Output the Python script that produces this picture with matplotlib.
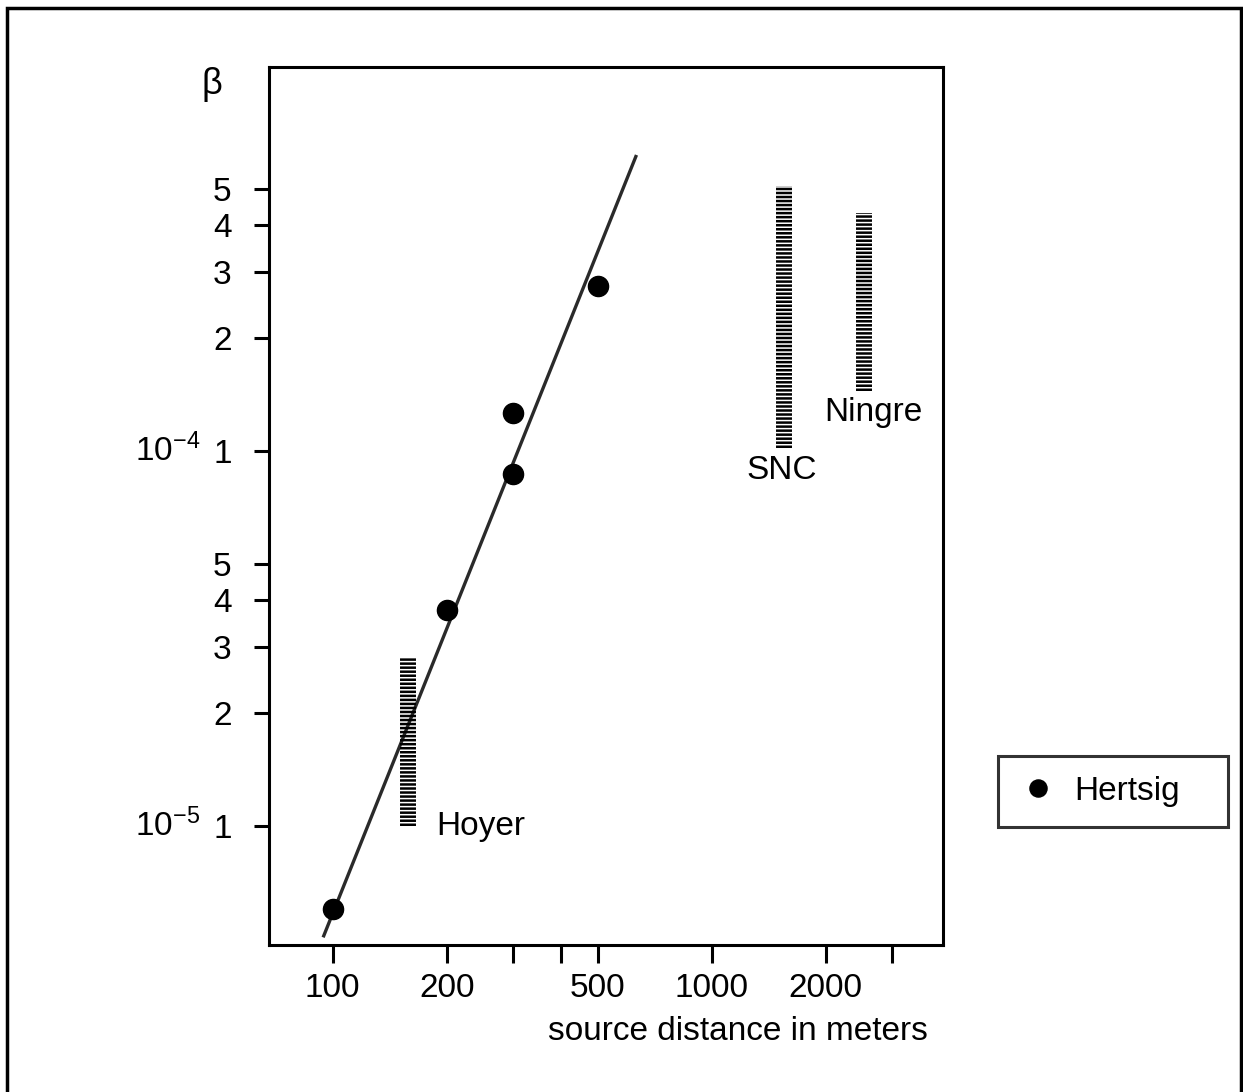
import matplotlib
matplotlib.use("Agg")
import matplotlib.pyplot as plt
import matplotlib.transforms as mtransforms
from matplotlib.patches import Rectangle
from matplotlib.ticker import FixedLocator, NullLocator

plt.rcParams["font.family"] = ["Liberation Sans", "DejaVu Sans"]
plt.rcParams["mathtext.fontset"] = "custom"
plt.rcParams["mathtext.rm"] = "Liberation Sans"
plt.rcParams["mathtext.it"] = "Liberation Sans:italic"
plt.rcParams["lines.scale_dashes"] = False

# =========================
# DATA
# =========================
# Hertsig measurements
hertsig_x = [100, 200, 300, 300, 500]
hertsig_y = [6.0e-6, 3.77e-5, 8.7e-5, 1.26e-4, 2.75e-4]

# fitted line endpoints
fit_x = [94.7, 631]
fit_y = [5.1e-6, 6.1e-4]

# range bars from other sources
range_names = ["Hoyer", "SNC", "Ningre"]
range_x = [158, 1550, 2530]
range_lo = [1.0e-5, 1.02e-4, 1.45e-4]
range_hi = [2.8e-5, 5.1e-4, 4.3e-4]

x_ticks = [100, 200, 300, 400, 500, 1000, 2000, 3000]
x_tick_labels = ["100", "200", "", "", "500", "1000", "2000", ""]
y_ticks = [1e-5, 2e-5, 3e-5, 4e-5, 5e-5, 1e-4, 2e-4, 3e-4, 4e-4, 5e-4]
y_tick_labels = ["1", "2", "3", "4", "5", "1", "2", "3", "4", "5"]

FS = 24

# =========================
# FIGURE
# =========================
W, H = 1243, 1092
fig = plt.figure(figsize=(W / 100, H / 100), dpi=100)
ax = fig.add_axes([269 / W, 1 - 945 / H, 674 / W, (945 - 67) / H])

ax.set_xscale("log")
ax.set_yscale("log")
ax.set_xlim(67.9, 4080)
ax.set_ylim(4.82e-6, 1.057e-3)

# fitted line
ax.plot(fit_x, fit_y, color="#2a2a2a", lw=2.4, zorder=2)

# points
ax.plot(hertsig_x, hertsig_y, "o", color="black", markersize=14.5, zorder=3,
        label="Hertsig")

# striped range bars
for x, lo, hi in zip(range_x, range_lo, range_hi):
    ax.plot([x, x], [lo, hi], color="black", lw=11.5,
            linestyle=(0, (1.8, 1.1)), dash_capstyle="butt",
            solid_capstyle="butt", zorder=2)

ax.text(188, 1.0e-5, "Hoyer", fontsize=FS, ha="left", va="center")
ax.text(1530, 8.9e-5, "SNC", fontsize=FS, ha="center", va="center")
ax.text(2680, 1.27e-4, "Ningre", fontsize=FS, ha="center", va="center")

# axes styling
for s in ax.spines.values():
    s.set_linewidth(2.2)

ax.xaxis.set_major_locator(FixedLocator(x_ticks))
ax.xaxis.set_minor_locator(NullLocator())
ax.set_xticklabels(x_tick_labels)
ax.yaxis.set_major_locator(FixedLocator(y_ticks))
ax.yaxis.set_minor_locator(NullLocator())
ax.set_yticklabels(y_tick_labels)

ax.tick_params(axis="both", which="major", direction="out", length=13,
               width=2.2, labelsize=FS)
ax.tick_params(axis="x", pad=7)
ax.tick_params(axis="y", pad=16, length=11)

# decade prefixes for the y labels
trans = mtransforms.blended_transform_factory(ax.transAxes, ax.transData)
ax.text(-0.102, 1e-4, r"$10^{-4}$", transform=trans, fontsize=FS,
        ha="right", va="center")
ax.text(-0.102, 1e-5, r"$10^{-5}$", transform=trans, fontsize=FS,
        ha="right", va="center")

fig.text(212 / W, 1 - 85 / H, "β", fontsize=26, ha="center", va="center")
fig.text(738 / W, 1 - 1032 / H, "source distance in meters", fontsize=FS,
         ha="center", va="center")

# legend outside the axes
leg = fig.legend(loc="center", mode="expand",
                 bbox_to_anchor=(998 / W, 1 - 828 / H, 230 / W, 73 / H),
                 frameon=True, fancybox=False, fontsize=FS, markerscale=0.85,
                 borderpad=0.6, handletextpad=0.5, handlelength=1.2,
                 borderaxespad=0)
leg.get_frame().set_edgecolor("black")
leg.get_frame().set_linewidth(2.2)

# outer frame
fig.patches.append(Rectangle((7 / W, -0.05), (1241 - 7) / W, 1.05 - 8 / H,
                             transform=fig.transFigure, fill=False,
                             edgecolor="black", linewidth=2.5))

fig.savefig("out.png", dpi=100)
